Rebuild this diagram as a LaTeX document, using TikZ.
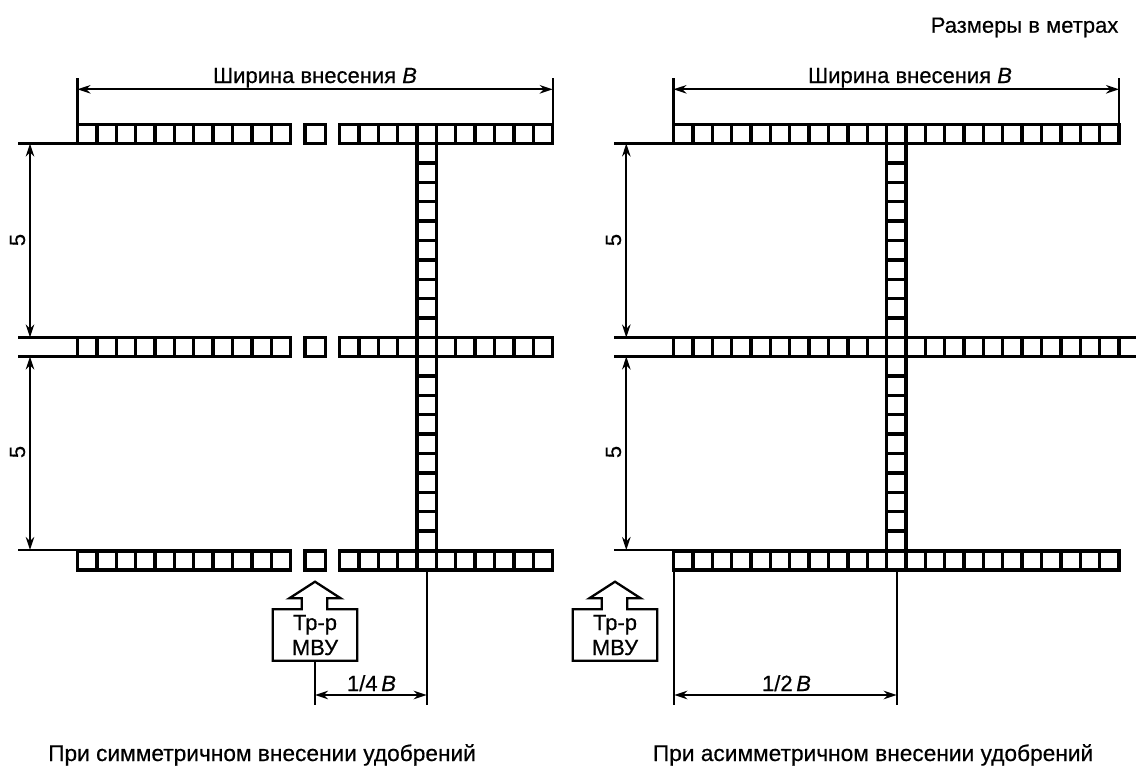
\documentclass[tikz,border=0pt]{standalone}
\usepackage{fontspec}
\setmainfont[FakeBold=0.45]{Liberation Sans}
\usetikzlibrary{arrows.meta}
\tikzset{
  strip/.style={line width=3.4pt,line join=miter,line cap=butt,draw=black},
  extline/.style={line width=2.3pt,draw=black},
  dimline/.style={line width=2pt,draw=black,{Stealth[length=13pt,width=8.5pt]}-{Stealth[length=13pt,width=8.5pt]}},
  truck/.style={line width=2.3pt,draw=black,line join=miter},
  lbl/.style={inner sep=0pt,anchor=base,font=\fontsize{22}{25}\selectfont},
  caption/.style={inner sep=0pt,anchor=base west,font=\fontsize{22.7}{25}\selectfont},
  five/.style={inner sep=0pt,rotate=90,font=\fontsize{22}{25}\selectfont},
}
\newcommand{\hcells}[4]{% x0, ytop, ybot, n
  \draw[strip] (#1,#2) rectangle ({#1+#4*19.37},#3);
  \foreach \k in {1,...,\numexpr#4-1\relax}
    \draw[strip] ({#1+\k*19.37},#2) -- ({#1+\k*19.37},#3);
}
\newcommand{\vcells}[4]{% xl, xr, ytop, ybot (10 cells)
  \draw[strip] (#1,#3) -- (#1,#4) (#2,#3) -- (#2,#4);
  \foreach \k in {1,...,9}
    \draw[strip] (#1,{#3+\k*19.4}) -- (#2,{#3+\k*19.4});
}
\newcommand{\truckshape}[1]{%
  \draw[truck] (#1+272.7,609.3) -- (#1+301.7,609.3) -- (#1+301.7,598.3) -- (#1+289.3,598.3)
    -- (#1+315,581.7) -- (#1+340.7,598.3) -- (#1+327.3,598.3) -- (#1+327.3,609.3)
    -- (#1+357.3,609.3) -- (#1+357.3,660.7) -- (#1+272.7,660.7) -- cycle;
}
\begin{document}
\begin{tikzpicture}[x=1pt,y=-1pt]
\useasboundingbox (0,0) rectangle (1136,766);
\fill[white] (0,0) rectangle (1136,766);

% ---- left diagram: strips
\hcells{77.5}{124.5}{143.5}{11}
\hcells{77.5}{337.5}{356.5}{11}
\hcells{77.5}{551}{570}{11}
\foreach \yy/\yb in {124.5/143.5,337.5/356.5,551/570}{
  \draw[strip] (305,\yy) rectangle (325.5,\yb);
  \hcells{339.5}{\yy}{\yb}{11}
}
\vcells{416.9}{436.3}{143.5}{337.5}
\vcells{416.9}{436.3}{356.5}{551}

% ---- right diagram: strips
\hcells{673.5}{124.5}{143.5}{23}
\hcells{673.5}{551}{570}{23}
\hcells{673.5}{337.5}{356.5}{23}
\draw[strip] (1119,337.5) -- (1136,337.5) (1119,356.5) -- (1136,356.5);
\vcells{886.6}{906}{143.5}{337.5}
\vcells{886.6}{906}{356.5}{551}

% ---- left dimensions
\coordinate (LA) at (77.5,89.3);
\coordinate (LB) at (552.7,89.3);
\draw[extline] (77.5,123) -- (77.5,78);
\draw[extline] (552.7,123) -- (552.7,78);
\draw[dimline] (LA) -- (LB);
\node[lbl] (Ltitle) at (315,83) {Ширина внесения \textit{B}};

\draw[extline] (18,143.5) -- (77,143.5);
\draw[extline] (18,337.5) -- (77,337.5);
\draw[extline] (18,356.5) -- (77,356.5);
\draw[extline] (18,550) -- (77,550);
\coordinate (L1) at (30,143.5);
\coordinate (L2) at (30,337.5);
\coordinate (L3) at (30,356.5);
\coordinate (L4) at (30,550);
\draw[dimline] (L1) -- (L2);
\draw[dimline] (L3) -- (L4);
\node[five] (Lfive1) at (17.5,240) {5};
\node[five] (Lfive2) at (17.5,452) {5};

% ---- right dimensions
\coordinate (RA) at (673.5,89.3);
\coordinate (RB) at (1119,89.3);
\draw[extline] (673.5,123) -- (673.5,78);
\draw[extline] (1119,123) -- (1119,78);
\draw[dimline] (RA) -- (RB);
\node[lbl] (Rtitle) at (910,83) {Ширина внесения \textit{B}};

\draw[extline] (614,143.5) -- (673,143.5);
\draw[extline] (614,337.5) -- (673,337.5);
\draw[extline] (614,356.5) -- (673,356.5);
\draw[extline] (614,550) -- (673,550);
\coordinate (R1) at (626.3,143.5);
\coordinate (R2) at (626.3,337.5);
\coordinate (R3) at (626.3,356.5);
\coordinate (R4) at (626.3,550);
\draw[dimline] (R1) -- (R2);
\draw[dimline] (R3) -- (R4);
\node[five] (Rfive1) at (613.5,240) {5};
\node[five] (Rfive2) at (613.5,452) {5};

% ---- trucks
\truckshape{0}
\truckshape{300}
\node[lbl] (Ltruck1) at (315,630) {Тр-р};
\node[lbl] (Ltruck2) at (315,655) {МВУ};
\node[lbl] (Rtruck1) at (615,630) {Тр-р};
\node[lbl] (Rtruck2) at (615,655) {МВУ};

% ---- bottom dimensions
\draw[extline] (315,661) -- (315,705);
\draw[extline] (426.7,570) -- (426.7,705);
\coordinate (Lq1) at (315,695);
\coordinate (Lq2) at (426.7,695);
\draw[dimline] (Lq1) -- (Lq2);
\node[lbl] (Lquarter) at (371.5,691) {1/4\,\textit{B}};

\draw[extline] (674.3,570) -- (674.3,705);
\draw[extline] (896.7,570) -- (896.7,705);
\coordinate (Rq1) at (674.3,695);
\coordinate (Rq2) at (896.7,695);
\draw[dimline] (Rq1) -- (Rq2);
\node[lbl] (Rhalf) at (786.5,691) {1/2\,\textit{B}};

% ---- captions
\node[lbl,anchor=base east] (units) at (1118.5,32.7) {Размеры в метрах};
\node[caption] (Lcap) at (48,761) {При симметричном внесении удобрений};
\node[caption] (Rcap) at (652.7,761) {При асимметричном внесении удобрений};
\end{tikzpicture}
\end{document}
